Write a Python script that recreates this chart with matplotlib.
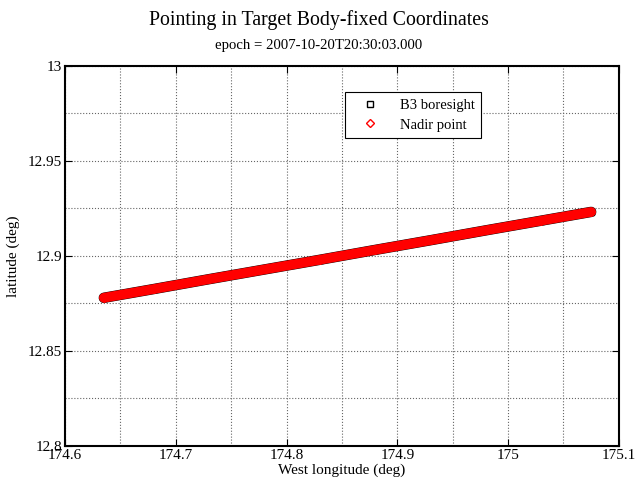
import numpy as np
import matplotlib
matplotlib.use("Agg")
from matplotlib import pyplot as plt
from matplotlib.lines import Line2D
from matplotlib.ticker import MultipleLocator

plt.rcParams['font.family'] = ['Liberation Serif', 'DejaVu Serif']

# pointing track
lon_b3 = [174.635, 174.68, 174.73, 174.78, 174.83, 174.88, 174.93, 174.98, 175.03, 175.075]
lat_b3 = [12.878, 12.8826, 12.8878, 12.8929, 12.898, 12.9032, 12.9083, 12.9135, 12.9186, 12.9232]
lon_nadir = [174.635, 174.68, 174.73, 174.78, 174.83, 174.88, 174.93, 174.98, 175.03, 175.075]
lat_nadir = [12.878, 12.8826, 12.8878, 12.8929, 12.898, 12.9032, 12.9083, 12.9135, 12.9186, 12.9232]

xticks = [174.6, 174.7, 174.8, 174.9, 175.0, 175.1]
xtick_labels = ['174.6', '174.7', '174.8', '174.9', '175', '175.1']
yticks = [12.8, 12.85, 12.9, 12.95, 13.0]
ytick_labels = ['12.8', '12.85', '12.9', '12.95', '13']

fig = plt.figure(figsize=(6.38, 4.87), dpi=100)
ax = fig.add_axes([0.102, 0.0842, 0.868, 0.7803])

ax.plot(lon_b3, lat_b3, color='black', lw=7.5, solid_capstyle='round',
        marker='s', ms=5, mfc='none', mec='black')
ax.plot(lon_nadir, lat_nadir, color='red', lw=7, solid_capstyle='round',
        marker='D', ms=4, mfc='none', mec='red')

ax.set_xlim(174.6, 175.1)
ax.set_ylim(12.8, 13.0)
ax.set_xticks(xticks)
ax.set_xticklabels(xtick_labels)
ax.set_yticks(yticks)
ax.set_yticklabels(ytick_labels)
ax.xaxis.set_minor_locator(MultipleLocator(0.05))
ax.yaxis.set_minor_locator(MultipleLocator(0.025))
ax.grid(True, which='both', ls=':', color='#666666', lw=0.8)
ax.tick_params(which='both', direction='in', top=True, right=True, labelsize=11, pad=2)
ax.tick_params(which='major', length=5)
ax.tick_params(which='minor', length=0)
for s in ax.spines.values():
    s.set_linewidth(1.5)

ax.set_xlabel('West longitude (deg)', fontsize=11, labelpad=1)
ax.set_ylabel('latitude (deg)', fontsize=11)
ax.yaxis.set_label_coords(-0.081, 0.5)

fig.text(0.5, 0.958, 'Pointing in Target Body-fixed Coordinates', ha='center', va='center', fontsize=14.3)
fig.text(0.5, 0.907, 'epoch = 2007-10-20T20:30:03.000', ha='center', va='center', fontsize=10.6)

handles = [Line2D([], [], ls='none', marker='s', ms=5, mfc='none', mec='black'),
           Line2D([], [], ls='none', marker='D', ms=4, mfc='none', mec='red')]
leg = ax.legend(handles, ['B3 boresight', 'Nadir point'], loc='upper left',
                bbox_to_anchor=(345/638, 1 - 92/487), bbox_transform=fig.transFigure,
                fancybox=False, framealpha=1, edgecolor='black', fontsize=10.5,
                handlelength=2.5, borderpad=0.45, labelspacing=0.45, handletextpad=0.8,
                borderaxespad=0)
leg.get_frame().set_linewidth(0.8)

fig.savefig('out.png', dpi=100)
